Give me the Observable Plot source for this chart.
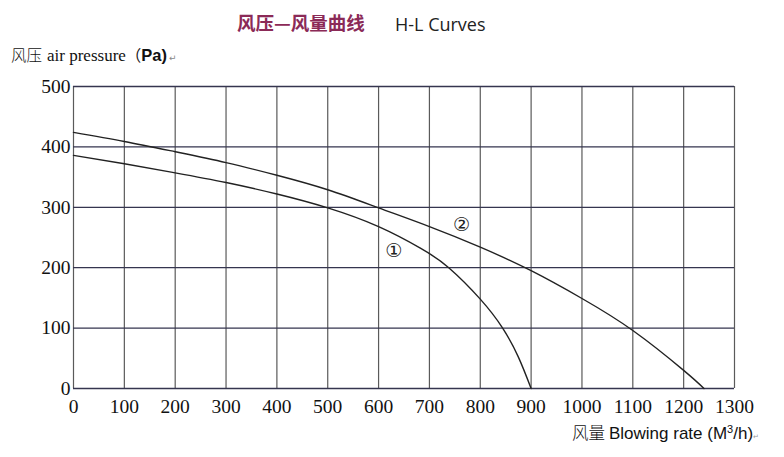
<!DOCTYPE html>
<html>
<head>
<meta charset="utf-8">
<script src="https://cdn.jsdelivr.net/npm/d3@7"></script>
<script src="https://cdn.jsdelivr.net/npm/@observablehq/plot@0.6"></script>
<style>
  html, body { margin: 0; padding: 0; background: #fff; }
  #chart { width: 784px; height: 457px; }
</style>
</head>
<body>
<div id="chart"></div>
<script>
// ---- data ----
const xTicks = [0, 100, 200, 300, 400, 500, 600, 700, 800, 900, 1000, 1100, 1200, 1300];
const yTicks = [0, 100, 200, 300, 400, 500];

// Curve ① (lower start, drops to 0 at 900)
const curve1Flow = [0, 100, 200, 300, 400, 500, 600, 683, 738, 800, 844, 875, 900];
const curve1Pres = [386, 372, 357, 341, 322, 299, 268, 232, 200, 148, 100, 52, 0];

// Curve ② (higher start, drops to 0 at ~1240)
const curve2Flow = [0, 100, 200, 300, 400, 500, 600, 700, 800, 900, 1000, 1100, 1200, 1240];
const curve2Pres = [424, 409, 392, 374, 353, 329, 299, 268, 234, 195, 149, 96, 30, 0];

const curveLabels = ["①", "②"];
const labelFlow = [630, 763];
const labelPres = [228, 271];

const titleCN = "风压—风量曲线";
const titleEN = "H-L Curves";
const yLabelCN = "风压";
const yLabelEN = "air pressure";
const yLabelUnit = "Pa)";
const xLabelCN = "风量";
const xLabelEN = "Blowing rate (M";
// ---------------------------------------

const c1 = curve1Flow.map((f, i) => ({flow: f, pres: curve1Pres[i]}));
const c2 = curve2Flow.map((f, i) => ({flow: f, pres: curve2Pres[i]}));
const lbl = curveLabels.map((t, i) => ({t, flow: labelFlow[i], pres: labelPres[i]}));

const plot = Plot.plot({
  width: 784,
  height: 457,
  marginLeft: 73,
  marginRight: 50,
  marginTop: 86,
  marginBottom: 69,
  style: {fontFamily: "'Liberation Serif', serif", fontSize: "19.5px", color: "#111", background: "#fff"},
  x: {domain: [0, 1300]},
  y: {domain: [0, 500]},
  marks: [
    Plot.ruleX(xTicks, {stroke: "#5a5a5a", strokeWidth: 1.2}),
    Plot.ruleY(yTicks, {stroke: "#35354f", strokeWidth: 1.3}),
    Plot.line(c1, {x: "flow", y: "pres", curve: "natural", stroke: "#222", strokeWidth: 1.4}),
    Plot.line(c2, {x: "flow", y: "pres", curve: "natural", stroke: "#222", strokeWidth: 1.4}),
    Plot.text(lbl, {x: "flow", y: "pres", text: "t", fontSize: 19, fill: "#222", fontFamily: "'DejaVu Sans', sans-serif"}),
    Plot.axisX({ticks: xTicks, tickSize: 0, tickPadding: 11, tickFormat: d => String(d), label: null}),
    Plot.axisY({ticks: yTicks, tickSize: 0, tickPadding: 3, tickFormat: d => String(d), label: null})
  ]
});

document.getElementById("chart").appendChild(plot);

const svg = d3.select(plot);
// Title
svg.append("text")
  .attr("x", 237).attr("y", 30).attr("text-anchor", "start")
  .attr("font-family", "'Noto Sans CJK SC', sans-serif")
  .attr("font-weight", "bold").attr("font-size", 18.5)
  .attr("fill", "#8b2a57")
  .text(titleCN);
svg.append("text")
  .attr("x", 395).attr("y", 31).attr("text-anchor", "start")
  .attr("font-family", "'Open Sans', sans-serif")
  .attr("font-size", 18).attr("fill", "#222")
  .text(titleEN);

// Y axis label
const yl = svg.append("text").attr("x", 11).attr("y", 61).attr("text-anchor", "start").attr("fill", "#111");
yl.append("tspan").attr("font-family", "'Noto Sans CJK SC', sans-serif").attr("font-size", 15.5).attr("font-weight", 300).text(yLabelCN);
yl.append("tspan").attr("dx", 5).attr("font-family", "'Liberation Serif', serif").attr("font-size", 17).text(yLabelEN);
yl.append("tspan").attr("font-family", "'Noto Sans CJK SC', sans-serif").attr("font-size", 15.5).text("（");
yl.append("tspan").attr("font-family", "'Liberation Sans', sans-serif").attr("font-size", 16.5).attr("font-weight", "bold").text(yLabelUnit);
yl.append("tspan").attr("dx", 2).attr("font-family", "'DejaVu Sans', sans-serif").attr("font-size", 9).attr("fill", "#888").text("↵");

// X axis label
const xl = svg.append("text").attr("x", 572).attr("y", 439).attr("text-anchor", "start").attr("fill", "#111");
xl.append("tspan").attr("font-family", "'Noto Sans CJK SC', sans-serif").attr("font-size", 16.5).attr("font-weight", 300).text(xLabelCN);
xl.append("tspan").attr("dx", 4).attr("font-family", "'Liberation Sans', sans-serif").attr("font-size", 17).text(xLabelEN);
xl.append("tspan").attr("font-family", "'Liberation Sans', sans-serif").attr("font-size", 11).attr("dy", -6).text("3");
xl.append("tspan").attr("font-family", "'Liberation Sans', sans-serif").attr("font-size", 17).attr("dy", 6).text("/h)");
xl.append("tspan").attr("font-family", "'DejaVu Sans', sans-serif").attr("font-size", 7).attr("fill", "#999").text("↵");
</script>
</body>
</html>
